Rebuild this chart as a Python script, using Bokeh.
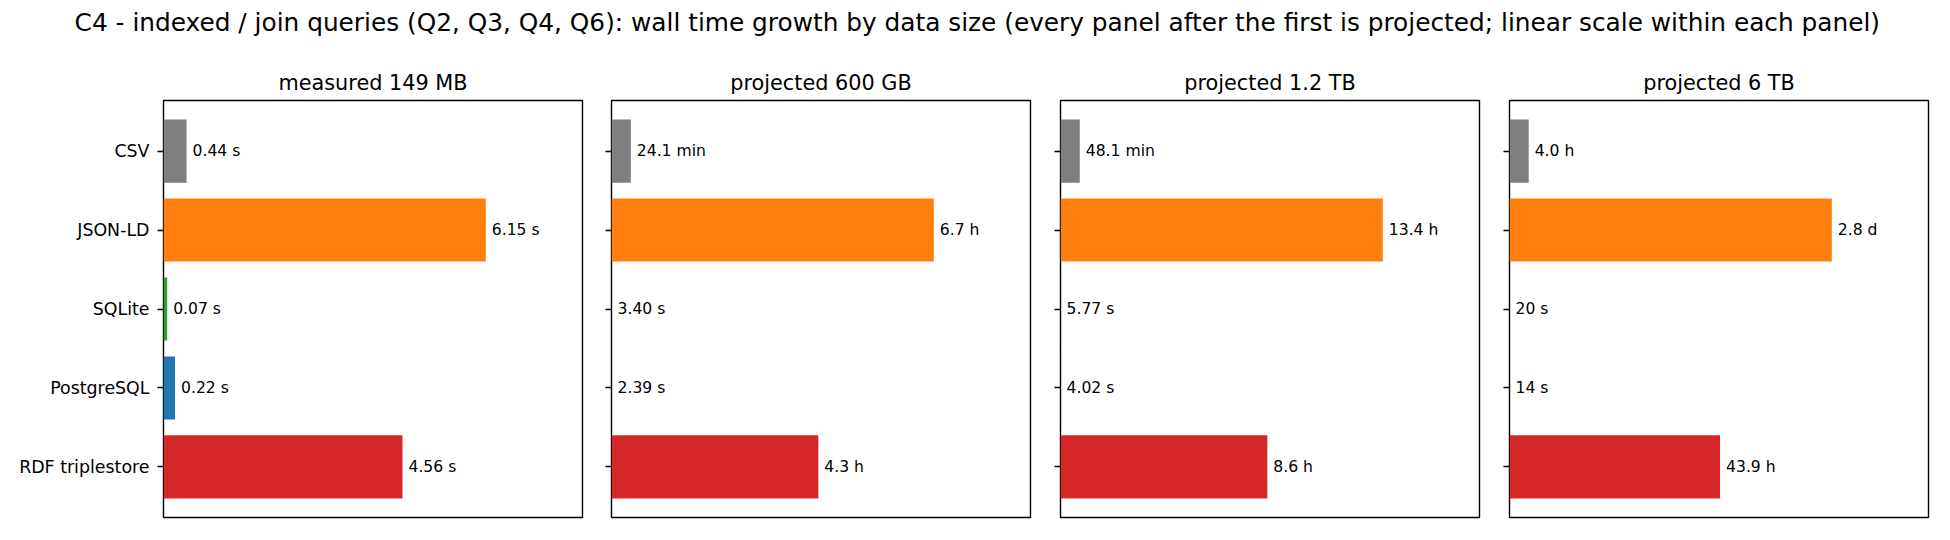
from bokeh.plotting import figure
from bokeh.layouts import row, column
from bokeh.models import ColumnDataSource, Range1d, FixedTicker
from bokeh.embed import file_html
from bokeh.resources import INLINE
from bokeh.core.properties import value

FONT = "DejaVu Sans"

suptitle = ("C4 - indexed / join queries (Q2, Q3, Q4, Q6): wall time growth by data size "
            "(every panel after the first is projected; linear scale within each panel)")

categories = ["CSV", "JSON-LD", "SQLite", "PostgreSQL", "RDF triplestore"]
bar_colors = ["#7f7f7f", "#ff7f0e", "#2ca02c", "#1f77b4", "#d62728"]

panel_titles = ["measured 149 MB", "projected 600 GB", "projected 1.2 TB", "projected 6 TB"]

unit_seconds = {"s": 1, "min": 60, "h": 3600, "d": 86400}

measured_vals = [0.44, 6.15, 0.07, 0.22, 4.56]
measured_units = ["s", "s", "s", "s", "s"]
measured_labels = ["0.44 s", "6.15 s", "0.07 s", "0.22 s", "4.56 s"]

proj600gb_vals = [24.1, 6.7, 3.40, 2.39, 4.3]
proj600gb_units = ["min", "h", "s", "s", "h"]
proj600gb_labels = ["24.1 min", "6.7 h", "3.40 s", "2.39 s", "4.3 h"]

proj1_2tb_vals = [48.1, 13.4, 5.77, 4.02, 8.6]
proj1_2tb_units = ["min", "h", "s", "s", "h"]
proj1_2tb_labels = ["48.1 min", "13.4 h", "5.77 s", "4.02 s", "8.6 h"]

proj6tb_vals = [4.0, 2.8, 20, 14, 43.9]
proj6tb_units = ["h", "d", "s", "s", "h"]
proj6tb_labels = ["4.0 h", "2.8 d", "20 s", "14 s", "43.9 h"]


def make_panel(title, vals, units, labels, show_labels, bl, br):
    secs = [v * unit_seconds[u] for v, u in zip(vals, units)]
    xmax = max(secs) * 1.3
    pos = list(range(len(categories)))
    src = ColumnDataSource(dict(y=pos, right=secs, color=bar_colors, label=labels))
    p = figure(frame_width=419, frame_height=417,
               x_range=Range1d(0, xmax), y_range=Range1d(4.64, -0.64),
               output_backend="svg", toolbar_location=None,
               min_border_left=bl, min_border_right=br,
               min_border_top=46, min_border_bottom=5, title=title)
    p.hbar(y="y", left=0, right="right", height=0.8, fill_color="color",
           line_color=None, source=src)
    p.text(x="right", y="y", text="label", x_offset=6, text_baseline="middle",
           text_align="left", text_font=value(FONT), text_font_size="15.6px",
           text_color="black", source=src)
    p.xaxis.visible = False
    p.grid.visible = False
    p.background_fill_color = "white"
    p.border_fill_color = "white"
    p.outline_line_color = "black"
    p.outline_line_width = 1.4
    p.outline_line_alpha = 1.0
    ax = p.yaxis[0]
    ax.ticker = FixedTicker(ticks=pos)
    if show_labels:
        ax.major_label_overrides = {i: c for i, c in enumerate(categories)}
    else:
        ax.major_label_overrides = {i: "" for i in pos}
    ax.axis_line_color = None
    ax.major_tick_out = 6
    ax.major_tick_in = 0
    ax.major_tick_line_width = 1.4
    ax.major_tick_line_color = "black"
    ax.minor_tick_line_color = None
    ax.major_label_standoff = 8
    ax.major_label_text_font = FONT
    ax.major_label_text_font_size = "17.4px"
    ax.major_label_text_color = "black"
    p.title.align = "center"
    p.title.text_font = FONT
    p.title.text_font_size = "20.8px"
    p.title.text_font_style = "normal"
    p.title.text_color = "black"
    p.title.standoff = 12
    return p


sup = figure(width=1942, height=54, x_range=Range1d(0, 1), y_range=Range1d(0, 1),
             output_backend="svg", toolbar_location=None, min_border=0)
sup.text(x=[0.503], y=[0.593], text=[suptitle], text_align="center",
         text_baseline="alphabetic", text_font=value(FONT),
         text_font_size="24.8px", text_color="black")
sup.axis.visible = False
sup.grid.visible = False
sup.outline_line_color = None

f1 = make_panel(panel_titles[0], measured_vals, measured_units, measured_labels, True, 163, 14)
f2 = make_panel(panel_titles[1], proj600gb_vals, proj600gb_units, proj600gb_labels, False, 15, 15)
f3 = make_panel(panel_titles[2], proj1_2tb_vals, proj1_2tb_units, proj1_2tb_labels, False, 15, 15)
f4 = make_panel(panel_titles[3], proj6tb_vals, proj6tb_units, proj6tb_labels, False, 15, 14)

layout = column(sup, row(f1, f2, f3, f4, spacing=0), spacing=0)

open("out.html", "w").write(file_html(layout, INLINE))
